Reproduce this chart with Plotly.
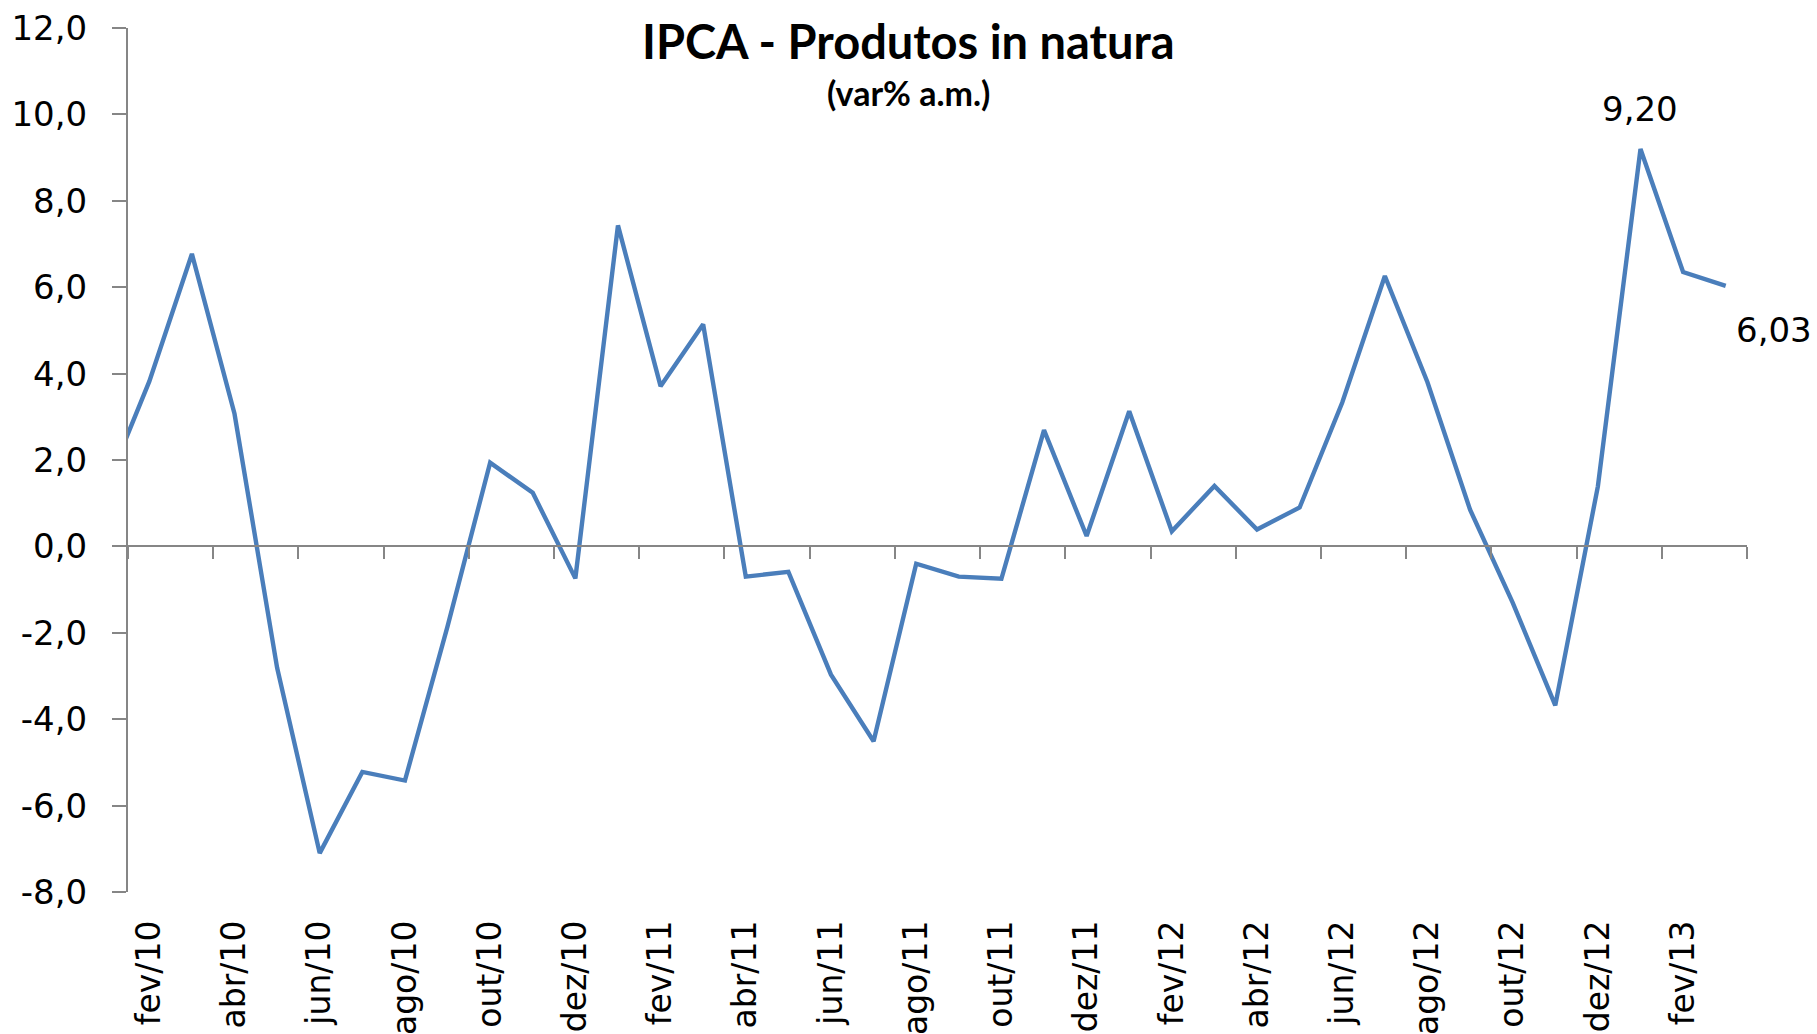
import plotly.graph_objects as go

# Monthly IPCA variation for fresh produce ("in natura"), % per month
meses = [
    "jan/10", "fev/10", "mar/10", "abr/10", "mai/10", "jun/10", "jul/10", "ago/10",
    "set/10", "out/10", "nov/10", "dez/10",
    "jan/11", "fev/11", "mar/11", "abr/11", "mai/11", "jun/11", "jul/11", "ago/11",
    "set/11", "out/11", "nov/11", "dez/11",
    "jan/12", "fev/12", "mar/12", "abr/12", "mai/12", "jun/12", "jul/12", "ago/12",
    "set/12", "out/12", "nov/12", "dez/12",
    "jan/13", "fev/13", "mar/13",
]
var_mensal = [
    1.40, 3.82, 6.77, 3.07, -2.81, -7.10, -5.22, -5.42,
    -1.85, 1.94, 1.24, -0.74,
    7.43, 3.71, 5.14, -0.70, -0.59, -2.97, -4.51, -0.40,
    -0.70, -0.75, 2.69, 0.24,
    3.13, 0.35, 1.40, 0.39, 0.90, 3.33, 6.26, 3.80,
    0.85, -1.30, -3.68, 1.39,
    9.20, 6.35, 6.03,
]
destaques = ["jan/13", "mar/13"]   # points with a value label

titulo = "IPCA - Produtos in natura"
subtitulo = "(var% a.m.)"

y_min, y_max, y_passo = -8, 12, 2
primeiro_visivel = meses.index("fev/10")

pos = list(range(len(meses)))
x_ini = primeiro_visivel - 0.5
x_fim = len(meses) - 0.5

# labels on every other month, tick marks on the boundaries between pairs
rotulos_pos = pos[primeiro_visivel::2]
rotulos_txt = [meses[i] for i in rotulos_pos]
marcas_pos = [x_ini + k for k in range(0, int(x_fim - x_ini) + 1, 2)]

# y tick labels with a plain hyphen and decimal comma
y_vals = list(range(y_min, y_max + 1, y_passo))
y_txt = [f"{v:.1f}".replace(".", ",") for v in y_vals]


def fmt(v):
    return f"{v:.2f}".replace(".", ",")


W, H = 1817, 1034
M = dict(l=128, r=70, t=28, b=142)

CINZA = "#868686"
AZUL = "#4A7EBB"
FONTE = "DejaVu Sans"

fig = go.Figure()

fig.add_trace(go.Scatter(
    x=pos, y=var_mensal, mode="lines",
    line=dict(color=AZUL, width=4.4),
    hoverinfo="skip", showlegend=False,
))

# invisible copy so the label axis is drawn
fig.add_trace(go.Scatter(
    x=pos, y=var_mensal, mode="lines", xaxis="x2",
    line=dict(color="rgba(0,0,0,0)", width=0),
    hoverinfo="skip", showlegend=False,
))

desloc = {"jan/13": (0, 40), "mar/13": (48, -44)}
for m in destaques:
    i = meses.index(m)
    v = var_mensal[i]
    dx, dy = desloc[m]
    fig.add_annotation(
        x=pos[i], y=v, text=fmt(v),
        showarrow=False, xshift=dx, yshift=dy,
        font=dict(family=FONTE, size=34, color="black"),
    )

# title centred on the whole figure width
centro = (W / 2 - M["l"]) / (W - M["l"] - M["r"])
fig.add_annotation(
    xref="paper", yref="paper", x=centro, y=1.0, yanchor="middle",
    text=f"<b>{titulo}</b>", showarrow=False, yshift=-13,
    font=dict(family="Lato", size=47, color="black"),
)
fig.add_annotation(
    xref="paper", yref="paper", x=centro, y=1.0, yanchor="middle",
    text=f"<b>{subtitulo}</b>", showarrow=False, yshift=-64,
    font=dict(family="Lato", size=34, color="black"),
)

fig.update_layout(
    width=W, height=H,
    margin=M,
    paper_bgcolor="white", plot_bgcolor="white",
    xaxis=dict(
        range=[x_ini, x_fim], automargin=False,
        anchor="free", position=(0 - y_min) / (y_max - y_min),
        showgrid=False, zeroline=False,
        showline=True, linecolor=CINZA, linewidth=2,
        tickmode="array", tickvals=marcas_pos, ticks="outside",
        ticklen=12, tickwidth=2, tickcolor=CINZA,
        showticklabels=False,
    ),
    xaxis2=dict(
        range=[x_ini, x_fim], overlaying="x", anchor="y", side="bottom",
        automargin=False,
        showgrid=False, zeroline=False, showline=False,
        tickmode="array", tickvals=rotulos_pos, ticktext=rotulos_txt,
        ticks="", tickangle=-90, ticklabelstandoff=21,
        tickfont=dict(family=FONTE, size=33, color="black"),
    ),
    yaxis=dict(
        range=[y_min, y_max], automargin=False,
        tickmode="array", tickvals=y_vals, ticktext=y_txt,
        showgrid=False, zeroline=False,
        showline=True, linecolor=CINZA, linewidth=2,
        ticks="outside", ticklen=14, tickwidth=2, tickcolor=CINZA,
        ticklabelstandoff=18,
        tickfont=dict(family=FONTE, size=34, color="black"),
    ),
)

fig.write_html("out.html")
